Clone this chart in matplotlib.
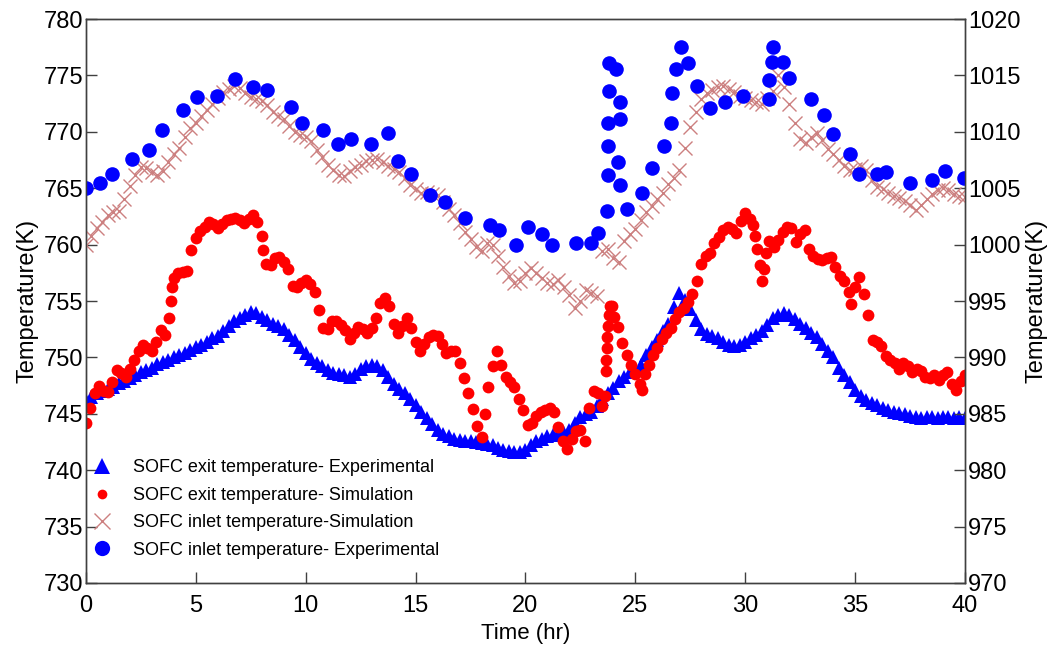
import numpy as np
import matplotlib
matplotlib.use("Agg")
import matplotlib.pyplot as plt
from matplotlib.lines import Line2D

plt.rcParams['font.family'] = ['Liberation Sans', 'DejaVu Sans']

# ---- data -------------------------------------------------------------
# SOFC exit temperature, experimental (left axis), 0.25 h sampling
exit_exp_time = np.arange(0, 40.001, 0.25)
exit_exp_temp = [
    746.2, 746.5, 746.8, 747.0, 747.2, 747.4, 747.7, 747.9, 748.2, 748.4,
    748.7, 748.9, 749.1, 749.4, 749.6, 749.8, 750.0, 750.2, 750.4, 750.7,
    750.9, 751.1, 751.4, 751.7, 751.9, 752.3, 752.8, 753.2, 753.5, 753.8,
    754.0, 753.9, 753.6, 753.3, 753.0, 752.8, 752.5, 752.0, 751.5, 750.9,
    750.4, 749.9, 749.5, 749.2, 748.9, 748.6, 748.5, 748.4, 748.3, 748.5,
    749.0, 749.2, 749.3, 749.2, 748.9, 748.3, 747.6, 747.2, 746.8, 746.3,
    745.8, 745.2, 744.6, 744.1, 743.6, 743.2, 743.0, 742.8, 742.7, 742.6,
    742.6, 742.5, 742.4, 742.3, 742.2, 742.0, 741.8, 741.7, 741.6, 741.6,
    741.8, 742.2, 742.6, 742.8, 743.0, 743.1, 743.2, 743.3, 743.6, 744.2,
    744.7, 745.0, 745.2, 745.7, 746.3, 746.8, 747.3, 747.9, 748.3, 748.7,
    749.0, 749.3, 750.2, 750.9, 751.5, 752.3, 753.0, 754.5, 755.7, 755.1,
    754.3, 753.3, 752.5, 752.1, 751.9, 751.7, 751.4, 751.1, 751.0, 751.1,
    751.4, 751.7, 752.0, 752.3, 752.9, 753.5, 753.8, 753.9, 753.8, 753.4,
    753.0, 752.6, 752.2, 751.8, 751.2, 750.6, 750.0, 749.1, 748.4, 747.8,
    747.1, 746.6, 746.2, 746.0, 745.8, 745.5, 745.3, 745.2, 745.1, 745.0,
    744.8, 744.7, 744.6, 744.7, 744.7, 744.6, 744.7, 744.7, 744.6, 744.7,
    744.6,
]

# SOFC exit temperature, simulation (left axis)
exit_sim_time = [
    0.0, 0.2, 0.4, 0.6, 0.8, 1.0, 1.2, 1.4, 1.6, 1.8,
    2.0, 2.2, 2.4, 2.6, 2.8, 3.0, 3.2, 3.4, 3.6, 3.8,
    3.85, 3.9, 4.0, 4.2, 4.4, 4.6, 4.8, 5.0, 5.2, 5.4,
    5.6, 5.8, 6.0, 6.2, 6.4, 6.6, 6.8, 7.0, 7.2, 7.4,
    7.6, 7.8, 8.0, 8.05, 8.2, 8.4, 8.6, 8.8, 9.0, 9.2,
    9.4, 9.6, 9.8, 10.0, 10.2, 10.4, 10.6, 10.8, 11.0, 11.2,
    11.4, 11.6, 11.8, 12.0, 12.2, 12.4, 12.6, 12.8, 13.0, 13.2,
    13.4, 13.6, 13.8, 14.0, 14.2, 14.4, 14.6, 14.8, 15.0, 15.2,
    15.4, 15.6, 15.8, 16.0, 16.2, 16.4, 16.6, 16.8, 17.0, 17.2,
    17.4, 17.6, 17.8, 18.0, 18.15, 18.3, 18.5, 18.7, 18.9, 19.1,
    19.3, 19.5, 19.7, 19.9, 20.1, 20.3, 20.5, 20.7, 20.9, 21.1,
    21.3, 21.5, 21.7, 21.9, 22.1, 22.3, 22.5, 22.7, 22.9, 23.1,
    23.3, 23.5, 23.62, 23.65, 23.68, 23.7, 23.72, 23.75, 23.78, 23.85,
    23.95, 24.05, 24.2, 24.4, 24.6, 24.8, 25.0, 25.2, 25.3, 25.45,
    25.6, 25.8, 26.0, 26.2, 26.4, 26.6, 26.8, 27.0, 27.2, 27.4,
    27.6, 27.8, 28.0, 28.2, 28.4, 28.6, 28.8, 29.0, 29.2, 29.4,
    29.6, 29.8, 30.0, 30.2, 30.35, 30.45, 30.55, 30.65, 30.75, 30.85,
    30.95, 31.1, 31.3, 31.5, 31.7, 31.9, 32.1, 32.3, 32.5, 32.7,
    32.9, 33.1, 33.3, 33.5, 33.7, 33.9, 34.1, 34.3, 34.5, 34.7,
    34.8, 35.0, 35.2, 35.4, 35.6, 35.8, 36.0, 36.2, 36.4, 36.6,
    36.8, 37.0, 37.2, 37.4, 37.6, 37.8, 38.0, 38.2, 38.4, 38.6,
    38.8, 39.0, 39.2, 39.4, 39.6, 39.8, 40.0,
]
exit_sim_temp = [
    744.2, 745.5, 746.8, 747.5, 747.0, 746.9, 747.8, 748.9, 748.6, 748.3,
    749.0, 749.8, 750.6, 751.1, 750.8, 750.6, 751.4, 752.4, 752.0, 753.5,
    755.0, 756.2, 757.0, 757.5, 757.6, 757.7, 759.5, 760.6, 761.2, 761.6,
    762.0, 761.8, 761.5, 761.8, 762.2, 762.3, 762.4, 762.2, 761.9, 762.3,
    762.6, 762.0, 760.8, 759.5, 758.3, 758.2, 758.8, 758.9, 758.5, 757.8,
    756.3, 756.2, 756.6, 756.9, 756.5, 755.8, 754.2, 752.6, 752.5, 753.2,
    753.2, 752.9, 752.4, 751.6, 752.2, 752.7, 752.5, 752.2, 752.6, 753.5,
    754.8, 755.3, 754.6, 753.0, 752.2, 752.8, 753.5, 752.6, 751.4, 750.6,
    751.2, 751.8, 752.0, 751.9, 751.2, 750.4, 750.6, 750.6, 749.5, 748.2,
    746.8, 745.4, 743.9, 742.9, 745.0, 747.4, 749.2, 750.6, 749.3, 748.3,
    747.8, 747.4, 746.3, 745.3, 744.0, 744.2, 744.8, 745.2, 745.3, 745.5,
    745.2, 743.8, 742.6, 741.9, 742.8, 743.5, 743.6, 742.6, 745.5, 747.0,
    746.8, 745.7, 746.6, 748.8, 749.8, 750.8, 751.8, 752.8, 753.8, 754.6,
    754.6, 753.6, 752.7, 751.3, 750.2, 749.3, 748.5, 747.6, 747.1, 748.5,
    749.3, 750.2, 750.8, 751.6, 752.2, 752.6, 753.4, 754.0, 754.4, 754.9,
    755.6, 756.8, 758.3, 759.0, 759.3, 760.1, 760.7, 761.3, 761.6, 761.4,
    761.0, 762.1, 762.8, 762.3, 761.7, 760.8, 759.6, 758.2, 756.8, 757.8,
    759.3, 760.3, 759.8, 760.4, 761.1, 761.6, 761.5, 760.2, 760.9, 761.3,
    759.6, 759.0, 758.7, 758.6, 758.8, 758.9, 758.0, 757.2, 756.8, 755.8,
    754.7, 756.2, 757.1, 755.6, 753.8, 751.5, 751.4, 751.0, 750.1, 749.8,
    749.5, 749.0, 749.5, 749.2, 748.7, 749.0, 748.8, 748.3, 748.2, 748.4,
    748.0, 748.4, 748.7, 747.6, 747.1, 747.9, 748.4,
]

# SOFC inlet temperature, simulation (right axis), 0.25 h sampling
inlet_sim_time = np.arange(0, 40.001, 0.25)
inlet_sim_temp = [
    1000.0, 1000.8, 1001.5, 1002.0, 1002.6, 1002.9, 1003.0, 1004.0, 1005.2, 1006.2,
    1006.9, 1006.8, 1006.4, 1006.2, 1006.5, 1007.3, 1008.0, 1008.6, 1009.5, 1010.3,
    1010.8, 1011.4, 1011.9, 1012.5, 1013.0, 1013.5, 1013.8, 1014.1, 1013.9, 1013.4,
    1013.1, 1012.9, 1012.7, 1012.4, 1011.8, 1011.4, 1011.1, 1010.5, 1010.0, 1009.7,
    1009.5, 1009.2, 1008.4, 1007.8, 1007.1, 1006.6, 1006.2, 1006.1, 1006.5, 1006.9,
    1007.1, 1007.4, 1007.5, 1007.6, 1007.3, 1007.0, 1006.7, 1006.4, 1005.9, 1005.3,
    1004.9, 1004.6, 1004.7, 1004.5, 1004.4, 1003.8, 1003.2, 1002.6, 1001.9, 1001.1,
    1000.5, 999.8, 999.4, 1000.1, 1000.0, 999.0, 998.0, 997.2, 996.6, 996.8,
    997.5, 997.9, 997.5, 997.0, 996.6, 996.5, 996.9, 996.2, 995.5, 994.4,
    995.0, 996.0, 995.7, 995.4, 999.4, 999.6, 998.8, 998.5, 1000.3, 1000.9,
    1001.4, 1002.2, 1002.9, 1003.4, 1004.0, 1004.6, 1005.4, 1005.9, 1006.6, 1008.6,
    1010.4, 1011.8, 1012.9, 1013.4, 1013.7, 1014.0, 1014.1, 1013.8, 1013.5, 1013.2,
    1013.0, 1012.8, 1012.6, 1012.5, 1013.0, 1013.6, 1015.0, 1014.0, 1012.5, 1010.8,
    1009.4, 1009.0, 1009.5, 1009.9, 1009.3, 1008.5, 1008.0, 1007.5, 1007.0, 1006.6,
    1006.7, 1007.0, 1006.6, 1005.7, 1005.1, 1004.9, 1004.6, 1004.3, 1004.1, 1003.9,
    1003.5, 1003.1, 1003.5, 1004.0, 1004.5, 1004.8, 1005.0, 1004.8, 1004.5, 1004.3,
    1004.2,
]

# SOFC inlet temperature, experimental (right axis)
inlet_exp_time = [
    0.0, 0.64, 1.2, 2.1, 2.87, 3.47, 4.4, 5.04, 5.97, 6.78,
    7.6, 8.24, 9.33, 9.83, 10.78, 11.45, 12.05, 12.97, 13.74, 14.2,
    14.79, 15.65, 16.33, 17.24, 18.38, 18.79, 19.56, 20.1, 20.75, 21.2,
    22.3, 23.0, 23.3, 23.7, 23.75, 23.75, 23.75, 23.8, 23.8, 24.1,
    24.3, 24.3, 24.2, 24.3, 24.6, 25.3, 25.75, 26.3, 26.6, 26.66,
    26.84, 27.1, 27.4, 27.8, 28.4, 29.07, 29.9, 31.1, 31.1, 31.2,
    31.25, 31.7, 32.0, 33.0, 33.6, 34.0, 34.75, 35.2, 36.0, 36.4,
    37.5, 38.5, 39.1, 39.95,
]
inlet_exp_temp = [
    1005.0, 1005.5, 1006.3, 1007.6, 1008.4, 1010.2, 1011.9, 1013.1, 1013.2, 1014.7,
    1014.0, 1013.7, 1012.2, 1010.8, 1010.2, 1008.9, 1009.4, 1008.9, 1009.9, 1007.4,
    1006.3, 1004.4, 1003.8, 1002.4, 1001.7, 1001.3, 1000.0, 1001.6, 1000.9, 1000.0,
    1000.1, 1000.1, 1001.0, 1003.0, 1006.2, 1008.7, 1010.8, 1013.6, 1016.1, 1015.6,
    1012.6, 1011.1, 1007.3, 1005.3, 1003.2, 1004.6, 1006.8, 1008.7, 1010.8, 1013.4,
    1015.6, 1017.5, 1016.1, 1014.1, 1012.1, 1012.6, 1013.2, 1012.9, 1014.6, 1016.2,
    1017.5, 1016.2, 1014.8, 1012.9, 1011.5, 1009.8, 1008.0, 1006.3, 1006.3, 1006.4,
    1005.5, 1005.7, 1006.5, 1005.9,
]

labels = [
    "SOFC exit temperature- Experimental",
    "SOFC exit temperature- Simulation",
    "SOFC inlet temperature-Simulation",
    "SOFC inlet temperature- Experimental",
]

# ---- figure -----------------------------------------------------------
BLUE = "#0000ff"
RED = "#ff0000"
ROSE = "#cc8080"
AXIS = "#404040"

fig = plt.figure(figsize=(10.56, 6.56), dpi=100)
ax1 = fig.add_axes([0.0814, 0.1113, 0.8324, 0.8597])
ax2 = ax1.twinx()

ax1.plot(exit_exp_time, exit_exp_temp, linestyle="none", marker="^",
         markersize=10.5, color=BLUE, markeredgewidth=0)
ax1.plot(exit_sim_time, exit_sim_temp, linestyle="none", marker="o",
         markersize=8.5, color=RED, markeredgewidth=0)
ax2.plot(inlet_sim_time, inlet_sim_temp, linestyle="none", marker="x",
         markersize=10, color=ROSE, markeredgewidth=1.0)
ax2.plot(inlet_exp_time, inlet_exp_temp, linestyle="none", marker="o",
         markersize=10.5, color=BLUE, markeredgewidth=0)

ax1.set_xlim(0, 40)
ax1.set_ylim(730, 780)
ax2.set_ylim(970, 1020)
ax1.set_xticks(range(0, 41, 5))
ax1.set_yticks(range(730, 781, 5))
ax2.set_yticks(range(970, 1021, 5))

for ax in (ax1, ax2):
    for sp in ax.spines.values():
        sp.set_color(AXIS)
        sp.set_linewidth(1.0)
    ax.tick_params(direction="in", length=8, width=1.0, color=AXIS,
                   labelsize=17, labelcolor="black", pad=2)
ax1.tick_params(axis="y", right=False)
ax1.tick_params(axis="x", top=False, pad=9)
ax2.tick_params(axis="y", left=False, right=True)

ax1.set_xlabel("Time (hr)", fontsize=16, labelpad=4)
ax1.set_ylabel("Temperature(K)", fontsize=17, labelpad=4)
ax2.set_ylabel("Temperature(K)", fontsize=17, labelpad=4)

handles = [
    Line2D([], [], linestyle="none", marker="^", markersize=11, color=BLUE, markeredgewidth=0),
    Line2D([], [], linestyle="none", marker="o", markersize=7, color=RED, markeredgewidth=0),
    Line2D([], [], linestyle="none", marker="x", markersize=11, color=ROSE, markeredgewidth=1.0),
    Line2D([], [], linestyle="none", marker="o", markersize=11, color=BLUE, markeredgewidth=0),
]
ax2.legend(handles, labels, loc="upper left", bbox_to_anchor=(0.0, 0.232),
           frameon=False, fontsize=13, handlelength=1.0, handletextpad=1.2,
           labelspacing=0.58, borderaxespad=0.0)

fig.savefig("out.png", dpi=100)
